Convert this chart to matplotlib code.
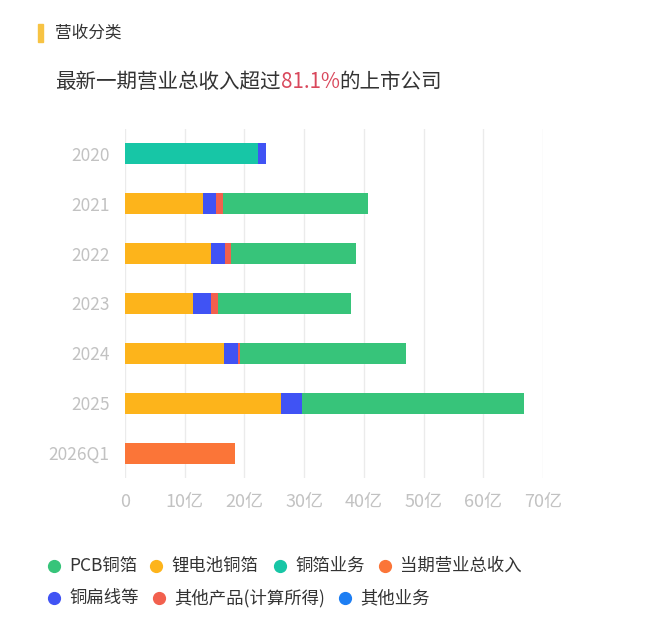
import matplotlib

matplotlib.use("Agg")
import matplotlib.pyplot as plt
from matplotlib.patches import Rectangle
from matplotlib.lines import Line2D

plt.rcParams["font.family"] = ["Noto Sans CJK SC", "DejaVu Sans"]

years = ["2020", "2021", "2022", "2023", "2024", "2025", "2026Q1"]

# 亿元, stacked left to right in this order
series = ["铜箔业务", "锂电池铜箔", "铜扁线等", "其他产品(计算所得)", "PCB铜箔", "其他业务", "当期营业总收入"]
copper_foil = [22.3, 0, 0, 0, 0, 0, 0]
lithium_foil = [0, 13.1, 14.4, 11.4, 16.6, 26.2, 0]
flat_wire = [1.3, 2.2, 2.4, 3.0, 2.3, 3.5, 0]
other_products = [0, 1.1, 1.0, 1.1, 0.4, 0, 0]
pcb_foil = [0, 24.3, 20.9, 22.3, 27.8, 37.1, 0]
other_business = [0, 0, 0, 0, 0, 0, 0]
total_revenue = [0, 0, 0, 0, 0, 0, 18.4]

colors = {
    "PCB铜箔": "#37c47a",
    "锂电池铜箔": "#fdb41b",
    "铜箔业务": "#17c6a6",
    "当期营业总收入": "#fb7538",
    "铜扁线等": "#4053f4",
    "其他产品(计算所得)": "#f2604e",
    "其他业务": "#1d7ef3",
}
values = {
    "铜箔业务": copper_foil,
    "锂电池铜箔": lithium_foil,
    "铜扁线等": flat_wire,
    "其他产品(计算所得)": other_products,
    "PCB铜箔": pcb_foil,
    "其他业务": other_business,
    "当期营业总收入": total_revenue,
}
legend_rows = [
    ["PCB铜箔", "锂电池铜箔", "铜箔业务", "当期营业总收入"],
    ["铜扁线等", "其他产品(计算所得)", "其他业务"],
]
xticks = [0, 10, 20, 30, 40, 50, 60, 70]

W, H = 650, 628
fig = plt.figure(figsize=(W / 100, H / 100), dpi=100)
ax = fig.add_axes([125 / W, 1 - 478 / H, 418 / W, 349 / H])

left = [0.0] * len(years)
for name in series:
    vals = values[name]
    ax.barh(range(len(years)), vals, left=left, height=0.42, color=colors[name], zorder=3)
    left = [a + b for a, b in zip(left, vals)]

ax.set_xlim(0, 70)
ax.set_ylim(len(years) - 0.5, -0.5)
ax.set_xticks(xticks)
ax.set_xticklabels(["0"] + [f"{t}亿" for t in xticks[1:]])
ax.set_yticks(range(len(years)))
ax.set_yticklabels(years)
ax.grid(axis="x", color="#ebebeb", linewidth=1, zorder=0)
for s in ax.spines.values():
    s.set_visible(False)
ax.tick_params(axis="x", length=0, labelsize=13, labelcolor="#c2c2c2", pad=11)
ax.tick_params(axis="y", length=0, labelsize=12.5, labelcolor="#c2c2c2", pad=11)

# header
fig.patches.append(Rectangle((38 / W, 1 - 42 / H), 5 / W, 18 / H, transform=fig.transFigure,
                             color="#f7c343", zorder=5))
fig.text(55 / W, 1 - 33 / H, "营收分类", fontsize=12, color="#333333", va="center", fontweight=500)

fig.canvas.draw()
renderer = fig.canvas.get_renderer()
x = 55 / W
for part, col in [("最新一期营业总收入超过", "#333333"), ("81.1%", "#d9485c"), ("的上市公司", "#333333")]:
    t = fig.text(x, 1 - 82 / H, part, fontsize=14.8, color=col, va="center", fontweight=500)
    bb = t.get_window_extent(renderer)
    x += bb.width / W

# legend
legend_x = [[54, 156, 280, 385], [54, 159, 345]]
legend_y = [566, 598]
for row, xs, y in zip(legend_rows, legend_x, legend_y):
    for name, cx in zip(row, xs):
        fig.add_artist(Line2D([cx / W], [1 - y / H], marker="o", markersize=8.5, color=colors[name],
                              linestyle="none", transform=fig.transFigure))
        fig.text((cx + 15) / W, 1 - y / H, name, fontsize=12.5, color="#333333", va="center",
                 fontweight=500)

fig.savefig("out.png", dpi=100, facecolor="white")
